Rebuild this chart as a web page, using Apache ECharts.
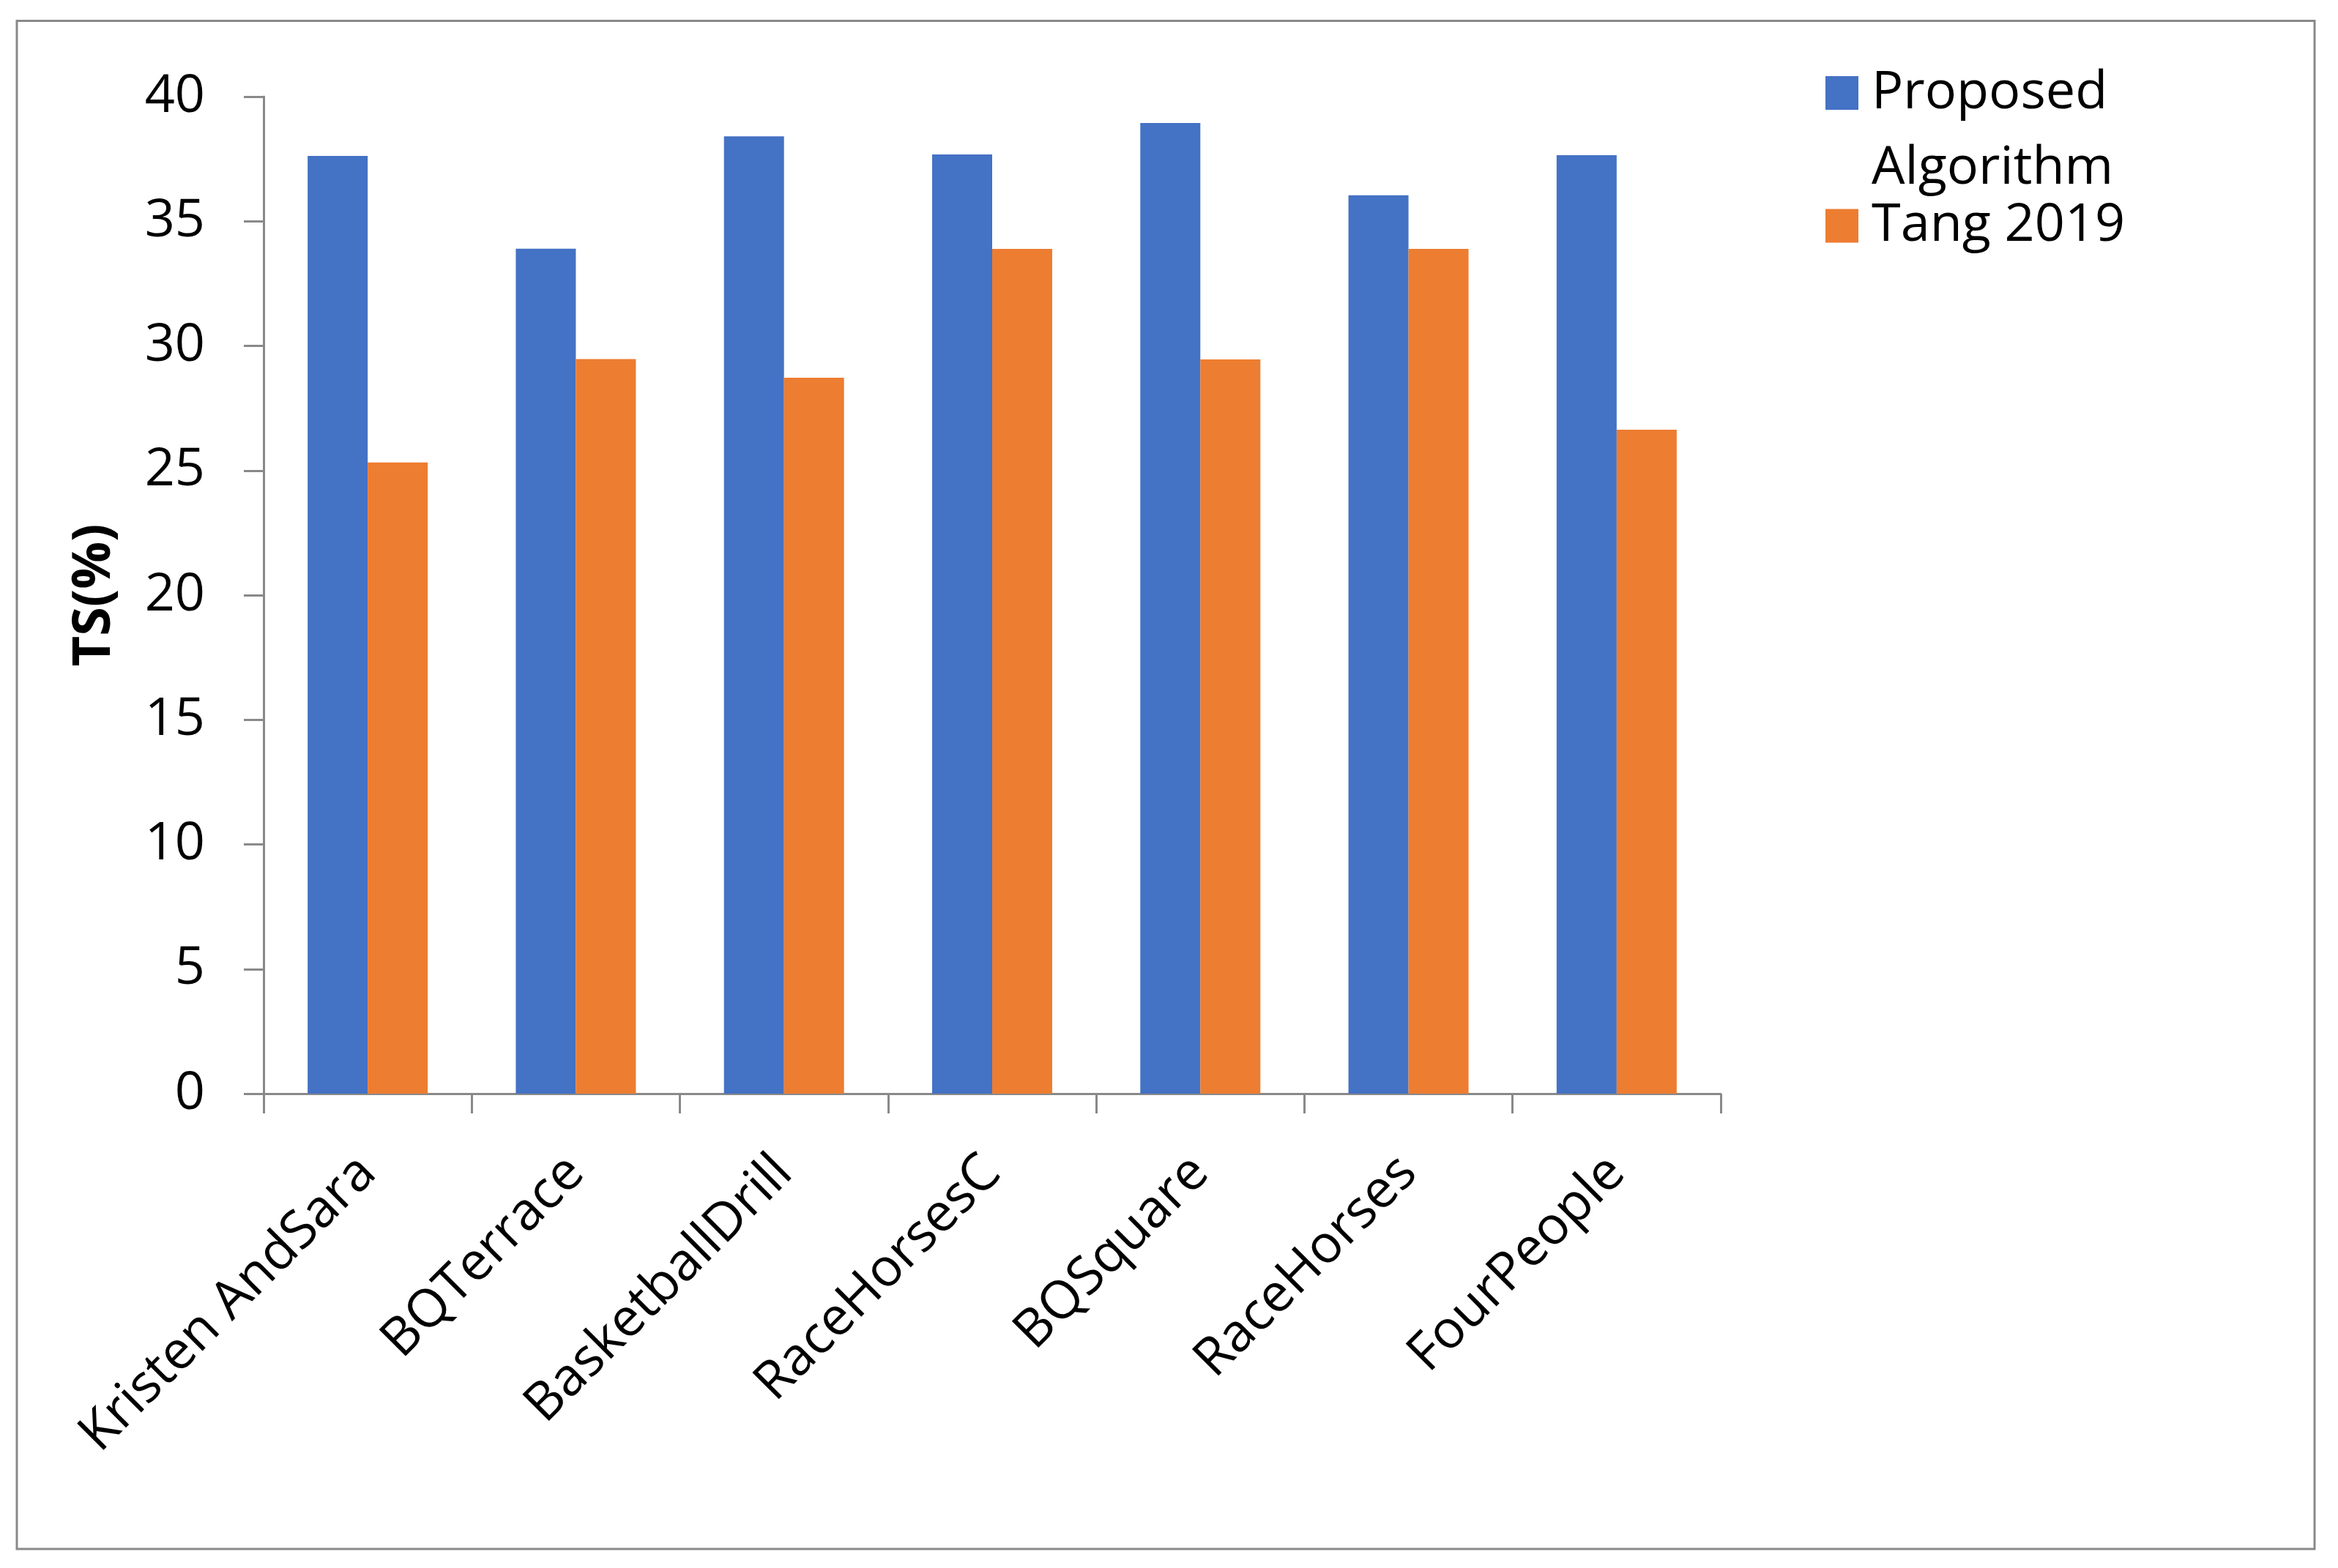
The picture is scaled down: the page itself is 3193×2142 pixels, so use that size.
<!DOCTYPE html>
<html>
<head>
<meta charset="utf-8">
<script src="https://cdn.jsdelivr.net/npm/echarts@6/dist/echarts.min.js"></script>
<style>
html,body{margin:0;padding:0;background:#fff;}
#chart{width:3193px;height:2142px;}
</style>
</head>
<body>
<div id="chart"></div>
<script>
var categories = ['Kristen AndSara', 'BQTerrace', 'BasketballDrill', 'RaceHorsesC', 'BQSquare', 'RaceHorses', 'FourPeople'];
var proposedValues = [37.62, 33.90, 38.41, 37.68, 38.94, 36.04, 37.65];
var tangValues = [25.32, 29.47, 28.72, 33.89, 29.46, 33.89, 26.64];
var seriesNames = ['Proposed Algorithm', 'Tang 2019'];
var yAxisTitle = 'TS(%)';

var FONT = 'Open Sans';
var AXIS_COLOR = '#898989';
var LH = 103;
// legend icon for the two-line entry: square at the top of a taller box
var ICON_H = 149;
var tallSquareIcon = 'path://M0,0H45V46H0Z M0,' + ICON_H + 'L0.01,' + ICON_H;

var chart = echarts.init(document.getElementById('chart'), null, {renderer: 'canvas'});
chart.setOption({
  backgroundColor: '#ffffff',
  animation: false,
  textStyle: {fontFamily: FONT, color: '#000'},
  graphic: [{
    type: 'rect',
    shape: {x: 23, y: 28.5, width: 3138, height: 2087.5},
    style: {fill: 'none', stroke: AXIS_COLOR, lineWidth: 3},
    silent: true,
    z: -1
  }],
  grid: {left: 360, right: 843, top: 132, bottom: 648, containLabel: false},
  legend: [{
    orient: 'vertical',
    left: 2493,
    top: 127 - 23 - (LH - ICON_H / 2),
    padding: 0,
    itemWidth: 45,
    itemHeight: ICON_H,
    icon: tallSquareIcon,
    textStyle: {fontFamily: FONT, fontSize: 72, color: '#000', lineHeight: LH, padding: [0, 0, 0, 13]},
    data: [seriesNames[0]],
    formatter: function () { return 'Proposed\nAlgorithm'; }
  }, {
    orient: 'vertical',
    left: 2493,
    top: 308.5 - LH / 2,
    padding: 0,
    itemWidth: 45,
    itemHeight: 46,
    icon: 'rect',
    textStyle: {fontFamily: FONT, fontSize: 72, color: '#000', lineHeight: LH, padding: [0, 0, 0, 13]},
    data: [seriesNames[1]]
  }],
  xAxis: {
    type: 'category',
    data: categories,
    axisLine: {show: true, lineStyle: {color: AXIS_COLOR, width: 3}},
    axisTick: {show: true, length: 27, alignWithLabel: false, lineStyle: {color: AXIS_COLOR, width: 3}},
    axisLabel: {rotate: 45, margin: 97, fontSize: 72, fontFamily: FONT, color: '#000', interval: 0},
    splitLine: {show: false}
  },
  yAxis: {
    type: 'value',
    min: 0,
    max: 40,
    interval: 5,
    name: yAxisTitle,
    nameLocation: 'middle',
    nameRotate: 90,
    nameGap: 195,
    nameTextStyle: {fontSize: 72, fontWeight: 'bold', fontFamily: FONT, color: '#000'},
    axisLine: {show: true, lineStyle: {color: AXIS_COLOR, width: 3}},
    axisTick: {show: true, length: 27, lineStyle: {color: AXIS_COLOR, width: 3}},
    axisLabel: {margin: 80, fontSize: 72, fontFamily: FONT, color: '#000'},
    splitLine: {show: false}
  },
  series: [
    {name: seriesNames[0], type: 'bar', data: proposedValues, barWidth: 82, barGap: '0%', itemStyle: {color: '#4472C4'}},
    {name: seriesNames[1], type: 'bar', data: tangValues, barWidth: 82, barGap: '0%', itemStyle: {color: '#ED7D31'}}
  ]
});
</script>
</body>
</html>
